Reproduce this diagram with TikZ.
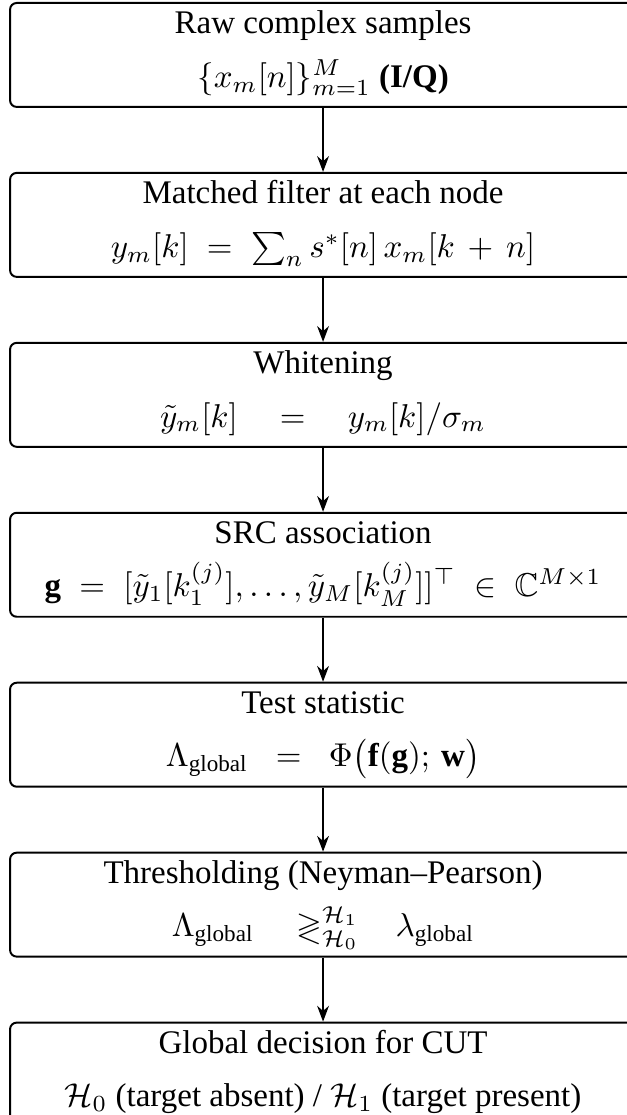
\documentclass[tikz,border=0pt]{standalone}
\usepackage{amsmath,amssymb}
\usepackage{fontspec}
\setmainfont{Liberation Serif}
\usetikzlibrary{positioning,arrows.meta}

\begin{document}
\begin{tikzpicture}[>=Stealth, x=1pt, y=1pt,
  stage/.style={draw, semithick, rounded corners=2pt,
    minimum width=189.7pt, minimum height=31.5pt, inner sep=0pt},
  head/.style={anchor=base, inner sep=0pt},
  eqn/.style={anchor=base, inner sep=0pt}]
  % Configurable parameters
  \def\gap{19.4pt}
  \def\ha{-9.7pt}
  \def\hb{-25.8pt}
  %
  % Page
  \useasboundingbox (0,0) rectangle (190,-337.9);
  %
  % Stages
  \node[stage] (raw) at (97.9,-16.65) {};
  \node[stage, below=\gap of raw] (mf) {};
  \node[stage, below=\gap of mf] (wht) {};
  \node[stage, below=\gap of wht] (src) {};
  \node[stage, below=\gap of src] (stat) {};
  \node[stage, below=\gap of stat] (thr) {};
  \node[stage, below=\gap of thr] (dec) {};
  %
  % Titles and formulas
  \node[head] (raw-t) at ([yshift=\ha]raw.north) {Raw complex samples};
  \node[eqn] (raw-e) at ([yshift=\hb]raw.north)
    {$\{x_m[n]\}_{m=1}^{M}$ \textbf{(I/Q)}};
  \node[head] (mf-t) at ([yshift=\ha]mf.north) {Matched filter at each node};
  \node[eqn] (mf-e) at ([yshift=\hb]mf.north)
    {$y_m[k] \;=\; \sum_n s^*[n]\,x_m[k\,+\,n]$};
  \node[head] (wht-t) at ([yshift=\ha]wht.north) {Whitening};
  \node[eqn] (wht-e) at ([yshift=\hb]wht.north)
    {$\tilde{y}_m[k] \quad=\quad y_m[k]/\sigma_m$};
  \node[head] (src-t) at ([yshift=\ha]src.north) {SRC association};
  \node[eqn] (src-e) at ([yshift=\hb]src.north)
    {$\mathbf{g} \;=\; [\tilde{y}_1[k_1^{(j)}],\ldots,\tilde{y}_M[k_M^{(j)}]]^{\top} \;\in\; \mathbb{C}^{M\times 1}$};
  \node[head] (stat-t) at ([yshift=\ha]stat.north) {Test statistic};
  \node[eqn] (stat-e) at ([yshift=\hb]stat.north)
    {$\Lambda_{\text{global}} \;\;=\;\; \Phi\bigl(\mathbf{f}(\mathbf{g});\,\mathbf{w}\bigr)$};
  \node[head] (thr-t) at ([yshift=\ha]thr.north) {Thresholding (Neyman--Pearson)};
  \node[eqn] (thr-e) at ([yshift=\hb]thr.north)
    {$\Lambda_{\text{global}} \quad\gtrless^{\mathcal{H}_1}_{\mathcal{H}_0}\;\;\; \lambda_{\text{global}}$};
  \node[head] (dec-t) at ([yshift=\ha]dec.north) {Global decision for CUT};
  \node[eqn] (dec-e) at ([yshift=\hb]dec.north)
    {$\mathcal{H}_0$ (target absent) / $\mathcal{H}_1$ (target present)};
  %
  % Flow
  \draw[->] (raw) -- (mf);
  \draw[->] (mf) -- (wht);
  \draw[->] (wht) -- (src);
  \draw[->] (src) -- (stat);
  \draw[->] (stat) -- (thr);
  \draw[->] (thr) -- (dec);
  %
\end{tikzpicture}
\end{document}
